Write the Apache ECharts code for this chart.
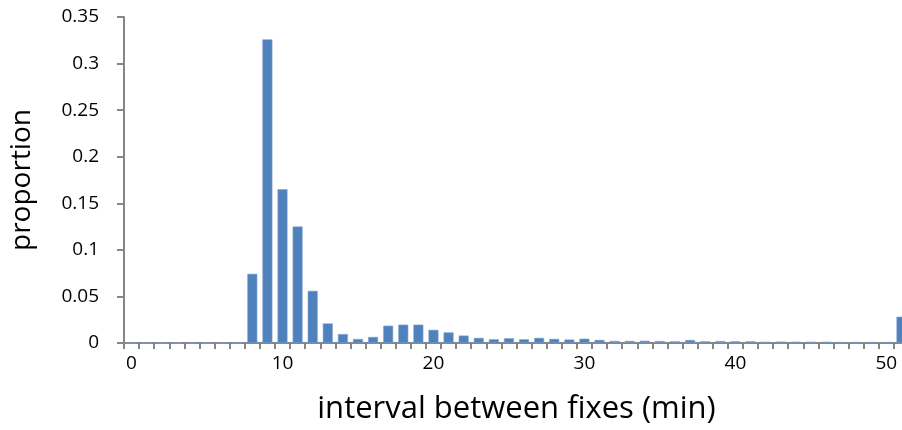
<!DOCTYPE html>
<html>
<head>
<meta charset="utf-8">
<script src="https://cdn.jsdelivr.net/npm/echarts@6/dist/echarts.min.js"></script>
<style>
  html, body { margin: 0; padding: 0; background: #ffffff; overflow: hidden; }
  /* the plot runs a few pixels past the right edge of the page, so the last bar is cut */
  #chart { width: 909px; height: 430px; }
</style>
</head>
<body>
<div id="chart"></div>
<script>
// Interval categories, in minutes (the last one collects everything beyond 50)
const intervals = [];
for (let m = 0; m <= 51; m++) intervals.push(String(m));

// Proportion of fixes falling into each interval
const proportions = [
  0, 0, 0, 0, 0, 0, 0, 0,
  0.0743, 0.326, 0.165, 0.125, 0.056, 0.021, 0.0096, 0.0043,
  0.0065, 0.0186, 0.0197, 0.0197, 0.0141, 0.0114, 0.008, 0.0055,
  0.0040, 0.0051, 0.0040, 0.0055, 0.0044, 0.0037, 0.0046, 0.0033,
  0.0022, 0.0022, 0.0024, 0.0021, 0.0018, 0.0032, 0.0018, 0.0021,
  0.0018, 0.0018, 0.0014, 0.0015, 0.0014, 0.0014, 0.0014, 0.0011,
  0.0011, 0.0011, 0.0011, 0.0282
];

// Labelled ticks along the interval axis
const xTickLabels = ['0', '10', '20', '30', '40', '50'];

const axisGrey = '#868686';
const textFont = 'Open Sans';

const chart = echarts.init(document.getElementById('chart'), null, { renderer: 'canvas' });
chart.setOption({
  animation: false,
  grid: { left: 122, right: 0, top: 17, height: 327, containLabel: false },
  xAxis: {
    type: 'category',
    data: intervals,
    name: 'interval between fixes (min)',
    nameLocation: 'middle',
    nameGap: 51,
    nameTextStyle: { fontFamily: textFont, fontSize: 31, color: '#000' },
    axisLine: { lineStyle: { color: axisGrey, width: 2 } },
    axisTick: { show: true, interval: 0, length: 6, lineStyle: { color: axisGrey, width: 2 } },
    axisLabel: {
      interval: 0,
      margin: 11,
      fontFamily: textFont,
      fontSize: 19,
      color: '#000',
      formatter: v => (xTickLabels.includes(v) ? v : '')
    },
    splitLine: { show: false }
  },
  yAxis: {
    type: 'value',
    min: 0,
    max: 0.35,
    interval: 0.05,
    name: 'proportion',
    nameLocation: 'middle',
    nameGap: 88,
    nameRotate: 90,
    nameTextStyle: { fontFamily: textFont, fontSize: 28, color: '#000' },
    axisLine: { show: true, lineStyle: { color: axisGrey, width: 2 } },
    axisTick: { show: true, length: 7, lineStyle: { color: axisGrey, width: 2 } },
    axisLabel: {
      margin: 25,
      fontFamily: textFont,
      fontSize: 19,
      color: '#000',
      formatter: v => String(+v.toFixed(2))
    },
    splitLine: { show: false }
  },
  series: [{
    type: 'bar',
    data: proportions,
    barCategoryGap: '34%',
    itemStyle: { color: '#4F81BD', borderColor: '#7FA2CF', borderWidth: 0.6 }
  }]
});
</script>
</body>
</html>
